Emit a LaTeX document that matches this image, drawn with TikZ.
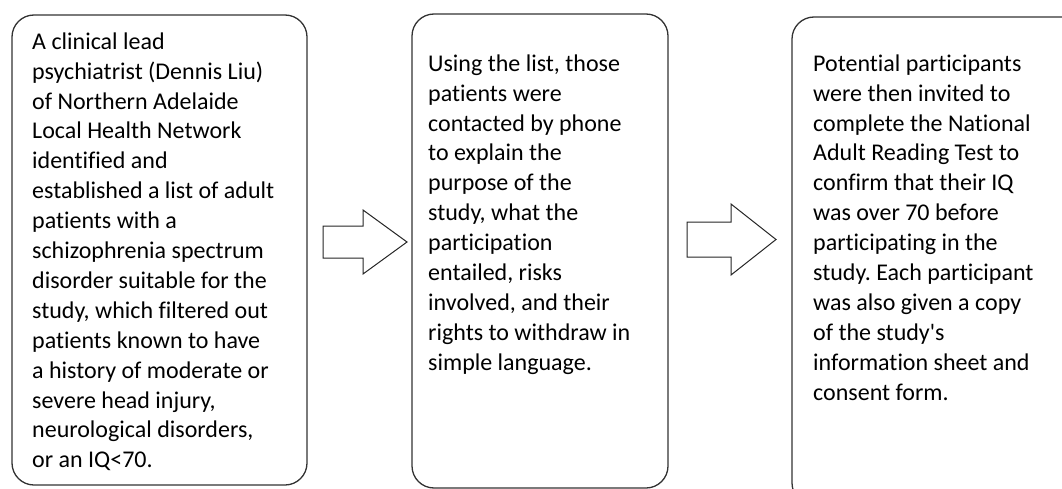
\documentclass[tikz,border=0pt]{standalone}
\usepackage{fontspec}
\setmainfont{Carlito}[Ligatures={NoCommon}]
\frenchspacing
\usetikzlibrary{positioning,calc}
\tikzset{
  x=1pt, y=-1pt,
  stepbox/.style    = {draw=black!80, line width=1.3pt, rounded corners=22pt, inner sep=0pt, outer sep=0pt},
  steptext/.style   = {inner sep=0pt, anchor=north west, align=left, font=\fontsize{24}{29.9}\selectfont},
  blockarrow/.style = {draw=black!85, line width=1pt, fill=white, line join=miter}
}
\newcommand{\DrawStep}[6]{%
  % draws the rounded box of the step
  \node[stepbox, minimum width=#3, minimum height=#4] (#1) at #2 {};
  % writes the text, measured from the top left corner of the box
  \node[steptext] (#1text) at ($(#1.north west)+#5$) {\strut #6};
}
\newcommand{\DrawArrow}[6]{%
  % tail centre of the block arrow
  \coordinate (#1) at #2;
  % outline: length #3, head length #4, half shaft #5, half head #6
  \draw[blockarrow] ($(#1)+(0,-#5)$) -- ($(#1)+({#3-#4},-#5)$)
    -- ($(#1)+({#3-#4},-#6)$) -- ($(#1)+(#3,0)$)
    -- ($(#1)+({#3-#4},#6)$) -- ($(#1)+({#3-#4},#5)$)
    -- ($(#1)+(0,#5)$) -- cycle;
}

\begin{document}
\begin{tikzpicture}
  \useasboundingbox (0,0) rectangle (1062,489);
  \clip (0,0) rectangle (1062,489);

  \DrawStep{select}{(159.5,250)}{295pt}{470pt}{(20,13.07)}
  {A clinical lead\\
   psychiatrist (Dennis Liu)\\
   of Northern Adelaide\\
   Local Health Network\\
   identified and\\
   established a list of adult\\
   patients with a\\
   schizophrenia spectrum\\
   disorder suitable for the\\
   study, which filtered out\\
   patients known to have\\
   a history of moderate or\\
   severe head injury,\\
   neurological disorders,\\
   or an IQ<70.}

  \DrawStep{contact}{(540,251)}{256pt}{474pt}{(16,36.07)}
  {Using the list, those\\
   patients were\\
   contacted by phone\\
   to explain the\\
   purpose of the\\
   study, what the\\
   participation\\
   entailed, risks\\
   involved, and their\\
   rights to withdraw in\\
   simple language.}

  \DrawStep{invite}{(938.5,261)}{293pt}{488pt}{(21,33.07)}
  {Potential participants\\
   were then invited to\\
   complete the National\\
   Adult Reading Test to\\
   confirm that their IQ\\
   was over 70 before\\
   participating in the\\
   study. Each participant\\
   was also given a copy\\
   of the study\textquotesingle s\\
   information sheet and\\
   consent form.}

  \DrawArrow{arrow1}{(323,242)}{84}{44}{16}{32}
  \DrawArrow{arrow2}{(687,239.5)}{89}{45}{17.5}{35.5}
\end{tikzpicture}
\end{document}
